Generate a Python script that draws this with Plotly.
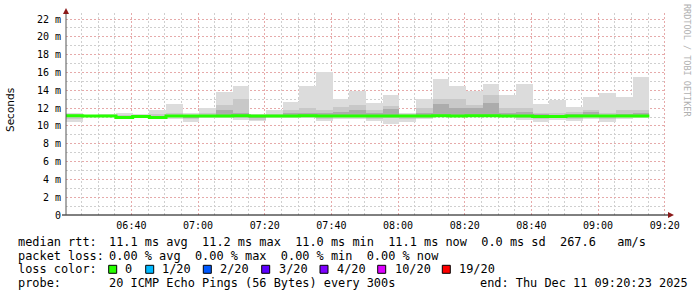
import pandas as pd
import plotly.graph_objects as go

# ---------------- data ----------------
start_time = "2025-12-11 06:20:23"
end_time = "2025-12-11 09:20:23"
bin_minutes = 5

median_ms = [11.15, 11.1, 11.1, 10.95, 11.05, 10.95, 11.1, 11.1, 11.1, 11.1,
             11.15, 11.1, 11.1, 11.1, 11.15, 11.1, 11.1, 11.1, 11.1, 11.1,
             11.1, 11.1, 11.15, 11.1, 11.15, 11.15, 11.1, 11.1, 11.05, 11.05,
             11.1, 11.1, 11.1, 11.1, 11.1]
min_ms = [10.4, 11.0, 11.0, 10.85, 10.95, 10.8, 10.8, 10.45, 10.9, 10.85,
          10.7, 10.5, 10.85, 10.85, 10.9, 10.5, 10.8, 10.8, 10.5, 10.25,
          10.4, 10.75, 11.0, 11.0, 11.0, 10.95, 11.0, 10.7, 10.4, 10.7,
          10.55, 10.8, 10.4, 10.8, 10.85]
max_ms = [11.5, 11.2, 11.3, 11.5, 11.3, 11.8, 12.5, 11.4, 12.0, 13.85,
          14.5, 11.35, 11.8, 12.7, 14.5, 16.0, 13.0, 13.95, 12.6, 13.47,
          11.5, 13.0, 15.25, 14.5, 13.9, 14.75, 13.5, 14.7, 12.45, 12.9,
          12.1, 13.2, 13.7, 13.25, 15.5]
mid_hi_ms = [11.3, 11.15, 11.2, 11.2, 11.2, 11.3, 11.4, 11.25, 11.4, 12.35,
             13.0, 11.2, 11.3, 11.8, 12.05, 11.8, 12.1, 12.35, 11.8, 12.25,
             11.3, 12.0, 13.0, 13.0, 12.35, 13.45, 12.0, 12.0, 11.5, 11.4,
             11.6, 11.8, 11.4, 11.8, 11.8]
mid_lo_ms = [10.8, 11.05, 11.05, 10.9, 11.0, 10.9, 10.95, 10.8, 11.0, 10.95,
             10.9, 10.7, 10.95, 10.95, 11.0, 10.8, 10.95, 10.95, 10.8, 10.9,
             10.8, 10.9, 11.05, 11.05, 11.05, 11.05, 11.05, 10.9, 10.8, 10.9,
             10.8, 11.0, 10.8, 10.95, 11.0]
core_hi_ms = [11.2, 11.1, 11.15, 11.1, 11.1, 11.1, 11.2, 11.15, 11.2, 11.8,
              11.5, 11.15, 11.2, 11.4, 11.5, 11.5, 11.6, 11.8, 11.4, 11.95,
              11.2, 11.5, 12.45, 12.0, 12.0, 12.55, 11.5, 11.6, 11.3, 11.25,
              11.3, 11.6, 11.2, 11.35, 11.4]
core_lo_ms = [11.0, 11.08, 11.08, 10.92, 11.02, 10.92, 11.0, 10.95, 11.05, 11.0,
              11.0, 10.9, 11.0, 11.0, 11.05, 10.95, 11.0, 11.0, 10.95, 11.0,
              10.95, 11.0, 11.1, 11.05, 11.1, 11.1, 11.05, 11.0, 10.95, 11.0,
              11.0, 11.05, 10.95, 11.0, 11.05]

y_tick_vals = [0, 2, 4, 6, 8, 10, 12, 14, 16, 18, 20, 22]
y_tick_text = ["0"] + [f"{v} m" for v in y_tick_vals[1:]]

legend_rows = [
    ("median rtt:", "11.1 ms avg  11.2 ms max  11.0 ms min  11.1 ms now  0.0 ms sd  267.6   am/s"),
    ("packet loss:", "0.00 % avg  0.00 % max  0.00 % min  0.00 % now"),
    ("loss color:", ""),
    ("probe:", "20 ICMP Echo Pings (56 Bytes) every 300s"),
]
end_text = "end: Thu Dec 11 09:20:23 2025"
loss_labels = ["0", "1/20", "2/20", "3/20", "4/20", "10/20", "19/20"]
loss_colors = ["#26ff00", "#00b8ff", "#0059ff", "#5e00ff", "#7e00ff", "#dd00ff", "#ff0000"]

# ---------------- geometry (pixels) ----------------
W, H = 697, 297
L, R, T, B = 66, 31, 13, 82
PW, PH = W - L - R, H - T - B


def px(xp):
    return (xp - L) / PW


def py(yp):
    return (H - B - yp) / PH


n = len(median_ms)
starts = pd.date_range(start_time, periods=n, freq=f"{bin_minutes}min")
centers = starts + pd.Timedelta(minutes=bin_minutes / 2)
width_ms = bin_minutes * 60 * 1000

fig = go.Figure()


def band(lo, hi, color):
    fig.add_trace(go.Bar(
        x=centers, y=[h - l for l, h in zip(lo, hi)], base=lo, width=width_ms,
        marker=dict(color=color, line=dict(width=0)), hoverinfo="skip", showlegend=False))


band(min_ms, max_ms, "#dcdcdc")
band(mid_lo_ms, mid_hi_ms, "#c8c8c8")
band(core_lo_ms, core_hi_ms, "#acacac")

edges = list(starts) + [starts[-1] + pd.Timedelta(minutes=bin_minutes)]
fig.add_trace(go.Scatter(
    x=edges, y=median_ms + [median_ms[-1]], mode="lines",
    line=dict(color="#26ff00", width=3, shape="hv"), showlegend=False, hoverinfo="skip"))

mono = "DejaVu Sans Mono"
grid_minor = "#cfcfcf"
grid_major = "#e6aaaa"

fig.update_layout(
    width=W, height=H, margin=dict(l=L, r=R, t=T, b=B),
    paper_bgcolor="white", plot_bgcolor="white",
    barmode="overlay", bargap=0,
    showlegend=False,
    font=dict(family=mono, size=10, color="#000"),
)
fig.update_xaxes(
    type="date", range=[start_time, end_time],
    tick0="2025-12-11 06:00:00", dtick=20 * 60 * 1000, tickformat="%H:%M",
    showgrid=True, gridcolor=grid_major, griddash="2px,2px", gridwidth=1,
    minor=dict(dtick=5 * 60 * 1000, tick0="2025-12-11 06:00:00", showgrid=True,
               gridcolor=grid_minor, griddash="2px,2px", gridwidth=1),
    showline=False, zeroline=False, ticks="", ticklabelstandoff=3,
    tickfont=dict(family=mono, size=10, color="#000"),
)
fig.update_yaxes(
    range=[0, 22 * PH / 196], tickvals=y_tick_vals, ticktext=y_tick_text,
    showgrid=True, gridcolor=grid_major, griddash="2px,2px", gridwidth=1,
    minor=dict(dtick=1, showgrid=True, gridcolor=grid_minor, griddash="2px,2px", gridwidth=1),
    showline=False, zeroline=False, ticks="", ticklabelstandoff=4,
    tickfont=dict(family=mono, size=10, color="#000"),
)

shapes = []
# axes
shapes.append(dict(type="line", xref="paper", yref="paper", x0=px(62), x1=px(668), y0=0, y1=0,
                   line=dict(color="#000", width=1)))
shapes.append(dict(type="line", xref="paper", yref="paper", x0=0, x1=0, y0=0, y1=py(12),
                   line=dict(color="#555", width=1)))
# arrows
shapes.append(dict(type="path", xref="paper", yref="paper",
                   path=f"M {px(668)},{py(212)} L {px(674)},{py(215)} L {px(668)},{py(218)} Z",
                   fillcolor="#8b1a1a", line=dict(width=0)))
shapes.append(dict(type="path", xref="paper", yref="paper",
                   path=f"M {px(63)},{py(14)} L {px(66)},{py(8)} L {px(69)},{py(14)} Z",
                   fillcolor="#8b1a1a", line=dict(width=0)))

annotations = []
row_y = [241.7, 255.5, 269.3, 283.3]
for (lab, rest), yy in zip(legend_rows, row_y):
    annotations.append(dict(text=lab, x=px(16), y=py(yy), xref="paper", yref="paper",
                            xanchor="left", yanchor="middle", showarrow=False,
                            font=dict(family=mono, size=11.9, color="#000")))
    if rest:
        annotations.append(dict(text=rest.replace(" ", "&nbsp;"), x=px(107.3), y=py(yy),
                                xref="paper", yref="paper", xanchor="left", yanchor="middle",
                                showarrow=False, font=dict(family=mono, size=11.9, color="#000")))
annotations.append(dict(text=end_text.replace(" ", "&nbsp;"), x=px(478.3), y=py(row_y[3]),
                        xref="paper", yref="paper", xanchor="left", yanchor="middle",
                        showarrow=False, font=dict(family=mono, size=11.9, color="#000")))

sq_x = [108.7, 145.7, 203.3, 261.7, 320.0, 377.7, 442.3]
lab_x = [123.3, 160.0, 218.3, 276.7, 335.0, 392.7, 456.7]
for sx, lx, lab, col in zip(sq_x, lab_x, loss_labels, loss_colors):
    shapes.append(dict(type="rect", xref="paper", yref="paper",
                       x0=px(sx), x1=px(sx + 8), y0=py(265.3), y1=py(273.3),
                       fillcolor=col, line=dict(color="#000", width=1)))
    annotations.append(dict(text=lab, x=px(lx), y=py(row_y[2]), xref="paper", yref="paper",
                            xanchor="left", yanchor="middle", showarrow=False,
                            font=dict(family=mono, size=11.9, color="#000")))

annotations.append(dict(text="Seconds", x=px(10), y=py(110), xref="paper", yref="paper",
                        xanchor="center", yanchor="middle", textangle=-90, showarrow=False,
                        font=dict(family="DejaVu Sans", size=10.5, color="#000")))
annotations.append(dict(text="RRDTOOL&nbsp;/&nbsp;TOBI&nbsp;OETIKER", x=px(687), y=py(60),
                        xref="paper", yref="paper", xanchor="center", yanchor="middle",
                        textangle=90, showarrow=False,
                        font=dict(family=mono, size=8.5, color="#b0b0b0")))

fig.update_layout(shapes=shapes, annotations=annotations)
fig.write_html("out.html")
